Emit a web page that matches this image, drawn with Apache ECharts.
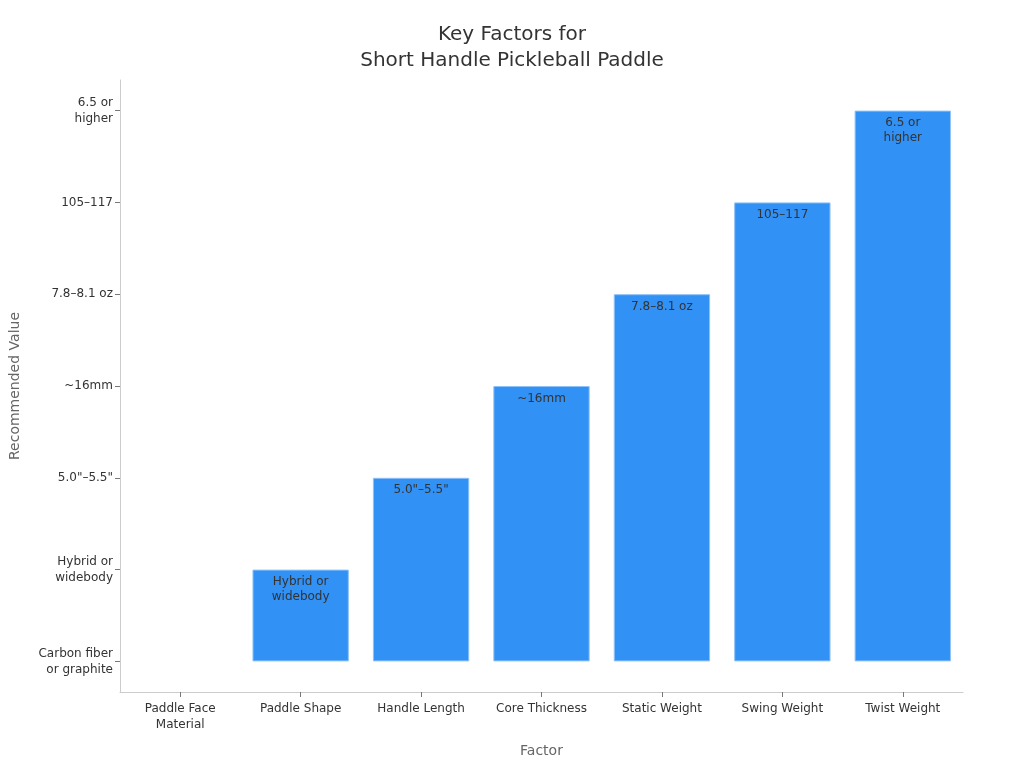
<!DOCTYPE html>
<html><head><meta charset="utf-8">
<script src="https://cdn.jsdelivr.net/npm/echarts@6/dist/echarts.min.js"></script>
<style>html,body{margin:0;padding:0;background:#fff}#c{width:1024px;height:768px}</style>
</head><body><div id="c"></div>
<script>
const categories = ["Paddle Face\nMaterial", "Paddle Shape", "Handle Length", "Core Thickness", "Static Weight", "Swing Weight", "Twist Weight"];
const levelLabels = ["Carbon fiber\nor graphite", "Hybrid or\nwidebody", "5.0\"–5.5\"", "~16mm", "7.8–8.1 oz", "105–117", "6.5 or\nhigher"];
const values = [0, 1, 2, 3, 4, 5, 6];
const tickValues = [0, 1, 2, 3, 4, 5, 6];

const chart = echarts.init(document.getElementById('c'));
chart.setOption({
  animation: false,
  textStyle: { fontFamily: 'DejaVu Sans' },
  title: {
    text: 'Key Factors for\nShort Handle Pickleball Paddle',
    left: 'center', top: 17,
    textStyle: { fontSize: 20, fontWeight: 'normal', color: '#333', lineHeight: 26, fontFamily: 'DejaVu Sans' }
  },
  grid: { left: 120, right: 61, top: 80, bottom: 76, containLabel: false, outerBoundsMode: 'none' },
  xAxis: {
    type: 'category', data: categories,
    name: 'Factor', nameLocation: 'middle', nameGap: 52,
    nameTextStyle: { color: '#666', fontSize: 14 },
    axisLine: { onZero: false, lineStyle: { color: '#ccc' } },
    axisTick: { show: true, alignWithLabel: true, length: 5, lineStyle: { color: '#777' } },
    axisLabel: { color: '#333', fontSize: 12, lineHeight: 16, margin: 9 }
  },
  yAxis: {
    type: 'value', min: -1/3, max: 6 + 1/3,
    name: 'Recommended Value', nameLocation: 'middle', nameGap: 98,
    nameTextStyle: { color: '#666', fontSize: 14 },
    axisLine: { show: true, lineStyle: { color: '#ccc' } },
    axisTick: { show: true, length: 5, customValues: tickValues, lineStyle: { color: '#777' } },
    splitLine: { show: false },
    axisLabel: {
      color: '#333', fontSize: 12, lineHeight: 16, margin: 7,
      customValues: tickValues,
      formatter: v => levelLabels[Math.round(v)] || ''
    }
  },
  series: [{
    type: 'bar',
    data: values.map((v, i) => i === 0
      ? { value: v, label: { show: false }, itemStyle: { borderWidth: 0, color: 'rgba(0,0,0,0)' } }
      : v),
    barWidth: '80%',
    itemStyle: { color: '#3191f5', borderColor: '#8fc2f8', borderWidth: 1 },
    label: {
      show: true, position: 'insideTop', distance: 5,
      color: '#333', fontSize: 12, lineHeight: 15,
      formatter: p => levelLabels[p.value]
    }
  }]
});
</script></body></html>
